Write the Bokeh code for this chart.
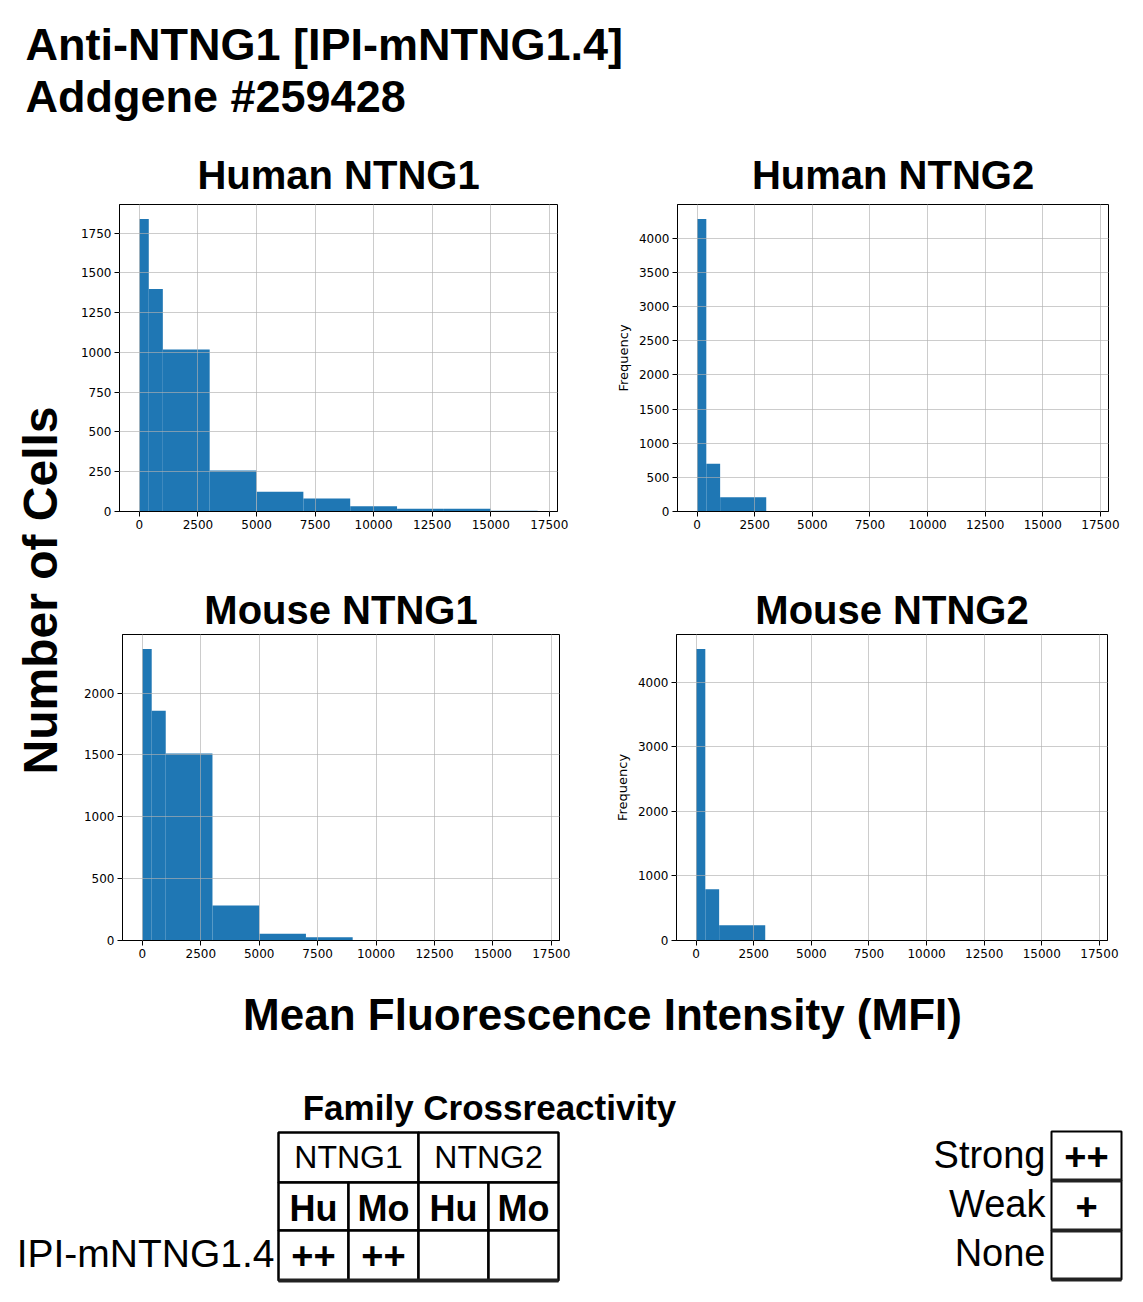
import numpy as np
from bokeh.plotting import figure
from bokeh.layouts import column, row
from bokeh.models import Range1d, FixedTicker
from bokeh.core.properties import value
from bokeh.embed import file_html
from bokeh.resources import INLINE

# ----------------------------
# Histogram data (MFI bins, cell counts)
# ----------------------------
bin_edges = [0, 400, 1000, 3000, 5000, 7000, 9000, 11000, 13000, 15000, 17000]
human_ntng1 = [1838, 1398, 1019, 257, 124, 82, 33, 17, 17, 4]
human_ntng2 = [4283, 698, 210, 0, 0, 0, 0, 0, 0, 0]
mouse_ntng1 = [2355, 1857, 1511, 282, 54, 27, 0, 0, 0, 0]
mouse_ntng2 = [4515, 794, 237, 0, 0, 0, 0, 0, 0, 0]

x_ticks = [0, 2500, 5000, 7500, 10000, 12500, 15000, 17500]
human_ntng1_yticks = [0, 250, 500, 750, 1000, 1250, 1500, 1750]
human_ntng2_yticks = [0, 500, 1000, 1500, 2000, 2500, 3000, 3500, 4000]
mouse_ntng1_yticks = [0, 500, 1000, 1500, 2000]
mouse_ntng2_yticks = [0, 1000, 2000, 3000, 4000]

panel_titles = ["Human NTNG1", "Human NTNG2", "Mouse NTNG1", "Mouse NTNG2"]

# ----------------------------
# Crossreactivity table
# ----------------------------
families = ["NTNG1", "NTNG2"]
species = ["Hu", "Mo", "Hu", "Mo"]
clone = "IPI-mNTNG1.4"
scores = ["++", "++", "", ""]
legend_labels = ["Strong", "Weak", "None"]
legend_marks = ["++", "+", ""]

BLUE = "#1f77b4"
SANS = "Liberation Sans"
TICK_FONT = "DejaVu Sans"


def hist(counts, yticks, title, width, height, borders, standoff, ylabel=None):
    left, right, top, bottom = borders
    span = bin_edges[-1] - bin_edges[0]
    p = figure(width=width, height=height, output_backend="svg", toolbar_location=None,
               x_range=Range1d(bin_edges[0] - 0.05 * span, bin_edges[-1] + 0.05 * span),
               y_range=Range1d(0, max(counts) * 1.05),
               min_border_left=left, min_border_right=right,
               min_border_top=top, min_border_bottom=bottom)
    p.quad(left=bin_edges[:-1], right=bin_edges[1:], top=counts, bottom=0,
           fill_color=BLUE, line_color=None)

    p.title.text = title
    p.title.text_font = SANS
    p.title.text_font_size = "40px"
    p.title.text_font_style = "bold"
    p.title.text_color = "black"
    p.title.align = "center"
    p.title.standoff = standoff

    p.xaxis.ticker = FixedTicker(ticks=x_ticks)
    p.yaxis.ticker = FixedTicker(ticks=yticks)
    p.axis.major_label_text_font = TICK_FONT
    p.axis.major_label_text_font_size = "12px"
    p.axis.major_label_text_color = "black"
    p.axis.major_label_standoff = 3
    p.axis.major_tick_out = 5
    p.axis.major_tick_in = 0
    p.axis.minor_tick_out = 0
    p.axis.minor_tick_in = 0
    p.axis.axis_line_color = "black"
    p.axis.major_tick_line_color = "black"
    if ylabel:
        p.yaxis.axis_label = ylabel
        p.yaxis.axis_label_text_font = TICK_FONT
        p.yaxis.axis_label_text_font_size = "13px"
        p.yaxis.axis_label_text_font_style = "normal"
        p.yaxis.axis_label_text_color = "black"
        p.yaxis.axis_label_standoff = 5

    p.outline_line_color = "black"
    p.outline_line_width = 1
    p.grid.grid_line_color = "#b0b0b0"
    p.grid.grid_line_alpha = 0.65
    p.grid.level = "overlay"
    return p


def canvas(width, height):
    p = figure(width=width, height=height, x_range=Range1d(0, width), y_range=Range1d(0, height),
               output_backend="svg", toolbar_location=None, min_border=0,
               x_axis_type=None, y_axis_type=None)
    p.outline_line_color = None
    p.grid.visible = False
    return p


def put(p, x, y, text, size, bold=False, align="left", angle=0):
    # y is the vertical centre of the text, measured from the top of the canvas
    p.text(x=[x], y=[p.height - y], text=[text], angle=angle,
           text_font=value(SANS), text_font_size=value(size),
           text_font_style="bold" if bold else "normal",
           text_align=align, text_baseline="middle", text_color="black")


def boxes(p, left, right, top, bottom, width):
    p.quad(left=left, right=right, top=[p.height - t for t in top],
           bottom=[p.height - b for b in bottom],
           fill_color="white", line_color="black", line_width=width)


def hline(p, x0, x1, ys, width):
    p.segment(x0=[x0] * len(ys), x1=[x1] * len(ys),
              y0=[p.height - y for y in ys], y1=[p.height - y for y in ys],
              line_color="#222222", line_width=width)


# ----------------------------
# Header
# ----------------------------
top = canvas(1143, 138)
put(top, 25, 44, "Anti-NTNG1 [IPI-mNTNG1.4]", "45px", bold=True)
put(top, 25, 96, "Addgene #259428", "45px", bold=True)

# ----------------------------
# Histograms
# ----------------------------
p1 = hist(human_ntng1, human_ntng1_yticks, panel_titles[0], 530, 422, (49, 43, 66, 49), 15)
p2 = hist(human_ntng2, human_ntng2_yticks, panel_titles[1], 543, 422, (77, 35, 66, 49), 15, "Frequency")
p3 = hist(mouse_ntng1, mouse_ntng1_yticks, panel_titles[2], 530, 405, (52, 41, 74, 25), 5)
p4 = hist(mouse_ntng2, mouse_ntng2_yticks, panel_titles[3], 543, 405, (76, 36, 74, 25), 5, "Frequency")

ylab = canvas(70, 827)
put(ylab, 40, 452, "Number of Cells", "48px", bold=True, align="center", angle=np.pi / 2)

# ----------------------------
# X label, crossreactivity table and key
# ----------------------------
bot = canvas(1143, 337)
put(bot, 602, 49, "Mean Fluorescence Intensity (MFI)", "44px", bold=True, align="center")
put(bot, 489, 142, "Family Crossreactivity", "35px", bold=True, align="center")

col_w = 70
x0 = 278
row_y = [167, 217, 265, 315]

fam_left = [x0 + 2 * i * col_w for i in range(len(families))]
boxes(bot, fam_left, [l + 2 * col_w for l in fam_left],
      [row_y[0]] * len(families), [row_y[1]] * len(families), 2.5)
sp_left = [x0 + i * col_w for i in range(len(species))]
for r in (1, 2):
    boxes(bot, sp_left, [l + col_w for l in sp_left],
          [row_y[r]] * len(species), [row_y[r + 1]] * len(species), 2.5)
hline(bot, x0, x0 + 4 * col_w, [row_y[3]], 4)

for l, fam in zip(fam_left, families):
    put(bot, l + col_w, 191, fam, "32px", align="center")
for l, sp in zip(sp_left, species):
    put(bot, l + col_w / 2, 243, sp, "36px", bold=True, align="center")
for l, sc in zip(sp_left, scores):
    put(bot, l + col_w / 2, 290, sc, "38px", bold=True, align="center")
put(bot, 274, 288, clone, "39px", align="right")

key_x = 1051
key_y = [166, 215, 265, 314]
boxes(bot, [key_x] * 3, [key_x + 70] * 3, key_y[:3], key_y[1:], 2)
hline(bot, key_x, key_x + 70, key_y[1:], 4)
for lab, mk, yl, ym in zip(legend_labels, legend_marks, [189, 238, 287], [191, 241, 290]):
    put(bot, 1045, yl, lab, "38px", align="right")
    put(bot, key_x + 35, ym, mk, "38px", bold=True, align="center")

layout = column(top, row(ylab, column(row(p1, p2), row(p3, p4))), bot)

open("out.html", "w").write(file_html(layout, INLINE))
